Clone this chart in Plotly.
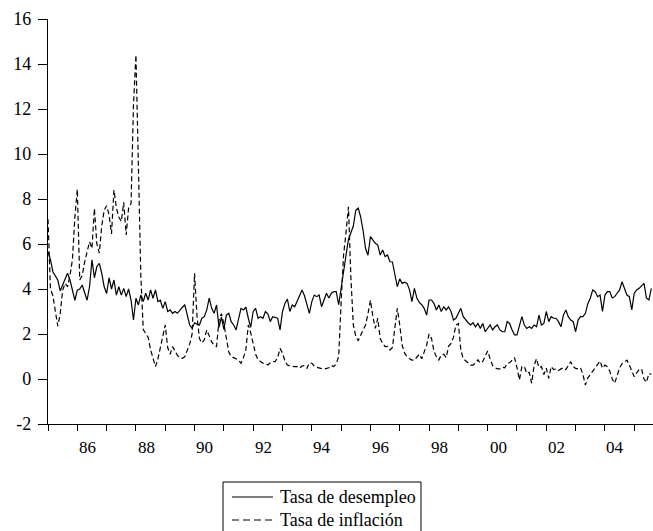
import numpy as np
import pandas as pd
import plotly.graph_objects as go

# Tasa de desempleo (mensual, enero 1985 - agosto 2005)
desempleo = [
    # 1985
    5.66, 5.3, 4.77, 4.55, 4.4, 3.92, 4.2, 4.5, 4.7, 4.4, 3.95, 3.5,
    # 1986
    3.95, 4.0, 4.18, 3.88, 3.5, 4.1, 5.3, 4.5, 5.0, 5.14, 4.7, 4.1,
    # 1987
    3.8, 4.5, 4.0, 4.4, 3.73, 4.1, 3.73, 4.03, 3.66, 4.0, 3.5, 2.62,
    # 1988
    3.59, 3.29, 3.73, 3.44, 3.81, 3.51, 3.96, 3.59, 3.96, 3.44, 3.5, 3.14,
    # 1989
    3.44, 3.0, 3.07, 2.92, 3.0, 2.92, 3.07, 3.19, 3.29, 2.77, 2.4, 2.25,
    # 1990
    2.5, 2.44, 2.4, 2.7, 2.77, 3.07, 3.59, 3.14, 2.92, 3.29, 2.3, 2.75,
    # 1991
    2.2, 2.84, 2.92, 2.55, 2.4, 2.18, 2.7, 3.14, 3.07, 3.19, 2.7, 2.3,
    # 1992
    3.0, 3.14, 2.7, 2.77, 2.7, 3.0, 2.9, 2.55, 2.77, 2.75, 2.7, 2.18,
    # 1993
    3.0, 3.36, 3.55, 3.0, 3.29, 3.21, 3.44, 3.73, 3.96, 3.7, 3.35, 2.92,
    # 1994
    3.44, 3.73, 3.66, 3.73, 3.21, 3.51, 3.81, 3.6, 3.81, 3.88, 3.88, 3.3,
    # 1995
    4.1, 4.9, 5.5, 6.2, 6.5, 6.8, 7.5, 7.6, 7.2, 6.6, 5.8, 5.5,
    # 1996
    6.33, 6.18, 6.03, 5.95, 5.51, 5.73, 5.44, 5.51, 5.21, 5.2, 4.7, 4.1,
    # 1997
    4.45, 4.25, 4.3, 4.25, 3.96, 3.44, 4.03, 3.6, 3.4, 3.3, 3.14, 2.84,
    # 1998
    3.51, 3.51, 3.36, 3.07, 3.29, 3.0, 3.21, 3.07, 3.21, 3.0, 2.62, 2.7,
    # 1999
    2.92, 3.14, 2.77, 2.62, 2.5, 2.4, 2.5, 2.32, 2.47, 2.25, 2.47, 2.1,
    # 2000
    2.25, 2.4, 2.18, 2.32, 2.4, 2.18, 2.1, 2.1, 2.55, 2.47, 2.18, 1.96,
    # 2001
    1.96, 2.4, 2.77, 2.4, 2.25, 2.32, 2.25, 2.4, 2.32, 2.84, 2.4, 2.47,
    # 2002
    3.0, 2.55, 2.77, 2.7, 2.7, 2.55, 2.32, 2.84, 3.07, 2.77, 2.62, 2.55,
    # 2003
    2.1, 2.62, 2.77, 2.77, 2.92, 3.35, 3.59, 3.96, 3.88, 3.66, 3.73, 3.0,
    # 2004
    3.73, 3.88, 3.88, 3.6, 3.66, 3.81, 3.96, 4.32, 4.03, 3.73, 3.66, 3.07,
    # 2005
    3.81, 3.96, 4.03, 4.15, 4.25, 3.6, 3.51, 4.03,
]

# Tasa de inflación (mensual, enero 1985 - agosto 2005)
inflacion = [
    # 1985
    7.1, 4.0, 3.7, 3.0, 2.35, 2.9, 3.95, 4.25, 4.1, 4.6, 5.3, 7.2,
    # 1986
    8.43, 4.4, 4.6, 5.2, 5.6, 6.1, 5.8, 7.58, 6.0, 5.6, 6.8, 7.5,
    # 1987
    7.7, 7.3, 6.45, 8.4, 7.6, 7.2, 7.0, 7.85, 6.4, 7.6, 7.8, 12.2,
    # 1988
    14.4, 9.0, 4.6, 2.2, 2.05, 1.85, 1.3, 0.9, 0.55, 0.9, 1.4, 2.0,
    # 1989
    2.4, 1.4, 1.1, 1.44, 1.25, 1.05, 0.95, 0.92, 0.99, 1.29, 1.55, 2.0,
    # 1990
    4.7, 2.8, 1.8, 1.6, 1.75, 2.18, 1.9, 1.65, 1.5, 1.44, 2.62, 2.9,
    # 1991
    2.45, 1.8, 1.2, 1.0, 0.95, 0.9, 0.84, 0.7, 0.95, 1.3, 2.4, 2.05,
    # 1992
    1.55, 1.1, 0.85, 0.78, 0.7, 0.68, 0.62, 0.72, 0.77, 0.77, 0.95, 1.36,
    # 1993
    1.15, 0.8, 0.62, 0.58, 0.55, 0.55, 0.55, 0.48, 0.58, 0.6, 0.48, 0.72,
    # 1994
    0.7, 0.58, 0.52, 0.48, 0.46, 0.44, 0.46, 0.5, 0.6, 0.55, 0.68, 1.0,
    # 1995
    3.4, 5.5, 6.5, 7.65, 4.5, 2.4, 1.9, 1.7, 1.95, 2.15, 2.4, 2.9,
    # 1996
    3.5, 2.77, 2.25, 2.7, 1.8, 1.58, 1.44, 1.45, 1.29, 1.4, 2.4, 3.14,
    # 1997
    2.4, 1.5, 1.15, 0.99, 0.9, 0.84, 0.84, 0.99, 1.1, 0.9, 1.2, 1.5,
    # 1998
    2.0, 1.8, 1.25, 0.99, 0.84, 1.07, 1.1, 0.95, 1.45, 1.58, 1.85, 2.4,
    # 1999
    2.47, 1.3, 0.9, 0.8, 0.68, 0.62, 0.62, 0.7, 0.85, 0.7, 0.78, 1.0,
    # 2000
    1.25, 0.9, 0.6, 0.5, 0.45, 0.45, 0.52, 0.5, 0.7, 0.72, 0.84, 0.95,
    # 2001
    0.5, -0.04, 0.55, 0.55, 0.25, 0.3, -0.19, 0.6, 0.9, 0.5, 0.55, 0.2,
    # 2002
    0.48, 0.03, 0.55, 0.42, 0.45, 0.38, 0.45, 0.5, 0.42, 0.6, 0.77, 0.55,
    # 2003
    0.47, 0.45, 0.5, 0.2, -0.27, 0.05, 0.2, 0.35, 0.5, 0.6, 0.8, 0.48,
    # 2004
    0.62, 0.55, 0.35, 0.0, -0.19, 0.15, 0.5, 0.68, 0.75, 0.84, 0.62, 0.33,
    # 2005
    0.1, 0.27, 0.42, 0.45, 0.0, -0.15, 0.25, 0.2,
]

# Etiquetas del eje de tiempo (años pares)
anios_etiqueta = [1986, 1988, 1990, 1992, 1994, 1996, 1998, 2000, 2002, 2004]
textos_etiqueta = ["86", "88", "90", "92", "94", "96", "98", "00", "02", "04"]

# Etiquetas del eje vertical
y_valores = [-2, 0, 2, 4, 6, 8, 10, 12, 14, 16]
y_textos = ["-2", "0", "2", "4", "6", "8", "10", "12", "14", "16"]

nombres = ["Tasa de desempleo", "Tasa de inflación"]
estilos = ["solid", "5px,3px"]

fechas = pd.date_range("1985-01-01", periods=len(desempleo), freq="MS")
t = fechas.year + (fechas.month - 1) / 12.0

FUENTE = "Liberation Serif, Times New Roman, serif"
TAM_Y = 18
TAM_X = 17
TAM_LEY = 18

fig = go.Figure()
for serie, nombre, estilo in zip([desempleo, inflacion], nombres, estilos):
    fig.add_trace(go.Scatter(
        x=t, y=serie, mode="lines", name=nombre, showlegend=False,
        line=dict(color="black", width=1.2, dash=estilo),
    ))

# Etiquetas de año centradas dentro del intervalo de cada año
for anio, texto in zip(anios_etiqueta, textos_etiqueta):
    fig.add_annotation(
        x=anio + 0.355, y=-0.0568, xref="x", yref="paper",
        text=texto, showarrow=False, xanchor="center", yanchor="middle",
        font=dict(family=FUENTE, size=TAM_X, color="black"),
    )

# Leyenda con recuadro bajo el gráfico (coordenadas de papel)
PLOT_W, PLOT_H, MARG_L, MARG_T = 605, 405, 48, 19


def px_a_papel(px, py):
    return (px - MARG_L) / PLOT_W, (MARG_T + PLOT_H - py) / PLOT_H


x0, y0 = px_a_papel(223, 482)
x1, y1 = px_a_papel(421, 545)
fig.add_shape(type="rect", xref="paper", yref="paper",
              x0=x0, y0=y1, x1=x1, y1=y0,
              line=dict(color="black", width=1), fillcolor="white", layer="above")

filas_y = [497, 520]
estilos_ley = ["solid", "7px,4px"]
for nombre, estilo, fy in zip(nombres, estilos_ley, filas_y):
    lx0, ly = px_a_papel(232, fy)
    lx1, _ = px_a_papel(273, fy)
    fig.add_shape(type="line", xref="paper", yref="paper",
                  x0=lx0, y0=ly, x1=lx1, y1=ly,
                  line=dict(color="black", width=1.2, dash=estilo))
    tx, _ = px_a_papel(278, fy)
    fig.add_annotation(
        x=tx, y=ly, xref="paper", yref="paper", text=nombre,
        showarrow=False, xanchor="left", yanchor="middle",
        font=dict(family=FUENTE, size=TAM_LEY, color="black"),
    )

x_rango = [1985, 2005.64]
fig.update_layout(
    width=653, height=531,
    margin=dict(l=MARG_L, r=0, t=MARG_T, b=531 - MARG_T - PLOT_H, pad=0,
                autoexpand=False),
    paper_bgcolor="white", plot_bgcolor="white",
    font=dict(family=FUENTE, size=TAM_Y, color="black"),
    showlegend=False,
    xaxis=dict(
        range=x_rango, showgrid=False, zeroline=False,
        showline=True, linecolor="black", linewidth=1.2,
        ticks="outside", ticklen=6, tickwidth=1, tickcolor="black",
        tick0=1985, dtick=1, showticklabels=False,
    ),
    yaxis=dict(
        range=[-2, 16], tickmode="array", tickvals=y_valores, ticktext=y_textos,
        showgrid=False, zeroline=False,
        showline=True, linecolor="black", linewidth=1.2,
        ticks="outside", ticklen=9, tickwidth=1, tickcolor="black",
        ticklabelstandoff=3,
        tickfont=dict(family=FUENTE, size=TAM_Y, color="black"),
    ),
)

fig.write_html("out.html")
